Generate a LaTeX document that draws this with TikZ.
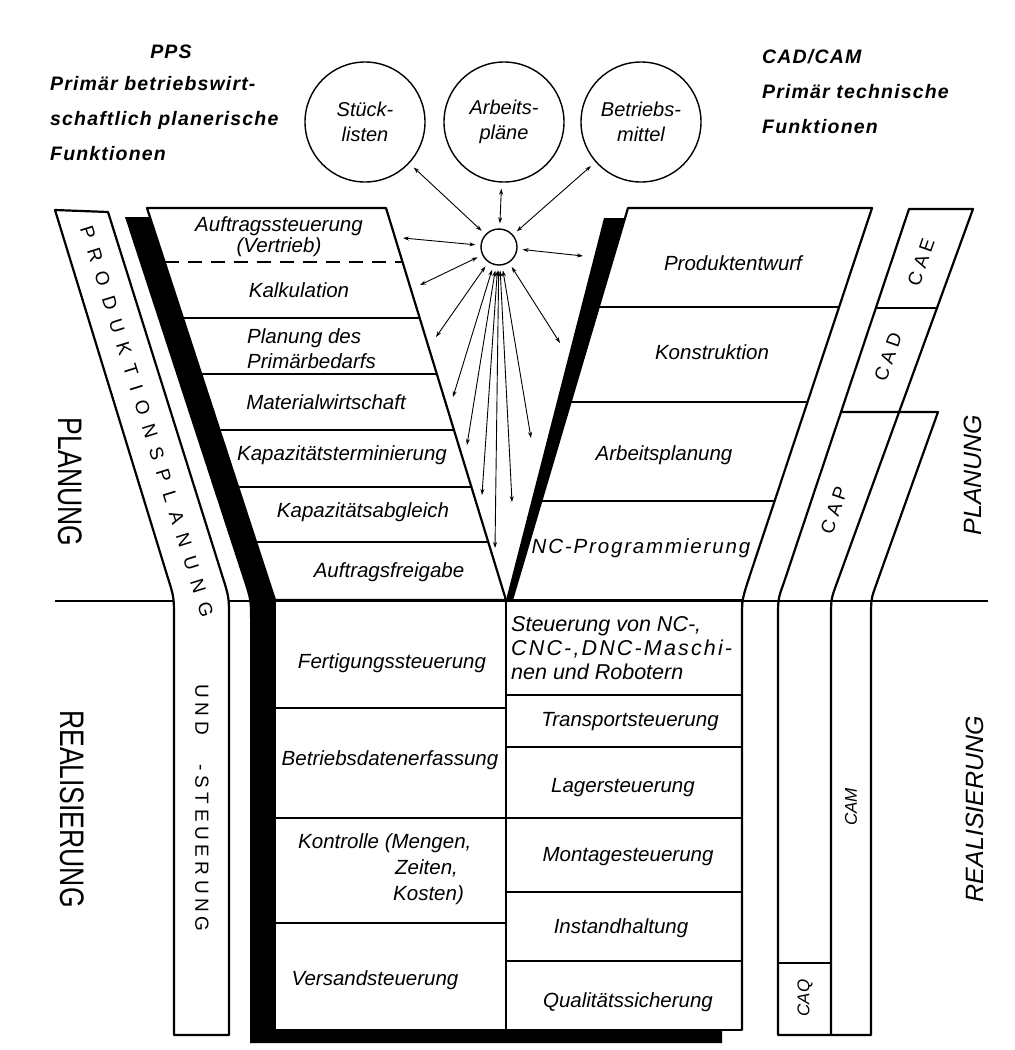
\documentclass[tikz,border=0pt]{standalone}
\usepackage{graphicx}
\usepackage{fontspec}
\setmainfont{Liberation Sans}
\newfontfamily\headfont[LetterSpace=6]{Liberation Sans}
\newfontfamily\bandfont[LetterSpace=55]{Liberation Sans}
\newfontfamily\bandfontb[LetterSpace=24]{Liberation Sans}
\newfontfamily\tagfont[LetterSpace=25]{Liberation Sans}
\usetikzlibrary{positioning,calc,arrows.meta}

\tikzset{
  funnel/.style={line width=2.2pt, line join=round},
  rowline/.style={line width=1.3pt},
  lbl/.style={font=\itshape\fontsize{20.5}{24}\selectfont, align=center, inner sep=0pt},
  head/.style={font=\headfont\bfseries\itshape\fontsize{19.5}{35}\selectfont, align=left, inner sep=0pt},
  store/.style={circle, draw, line width=1.4pt, minimum size=120pt, inner sep=0pt,
    font=\itshape\fontsize{20}{25}\selectfont, align=center},
  hub/.style={circle, draw, line width=1.4pt, minimum size=36pt, inner sep=0pt},
  link/.style={{Stealth[length=6pt,width=4pt]}-{Stealth[length=6pt,width=4pt]},
    line width=0.9pt, shorten <=5pt},
  phase/.style={font=\fontsize{34}{34}\selectfont, inner sep=0pt},
  cadtag/.style={font=\tagfont\fontsize{19}{19}\selectfont, inner sep=0pt},
}

\begin{document}
\begin{tikzpicture}[x=1pt,y=-1pt]
\useasboundingbox (0,0) rectangle (1015,1050);

% corners of the two funnel halves
\coordinate (ppsNW) at (147,208);
\coordinate (ppsNE) at (386,208);
\coordinate (ppsSW) at (275,600);
\coordinate (apex) at (506,600);
\coordinate (cadNW) at (628,208);
\coordinate (cadNE) at (872,208);
\coordinate (cadSW) at (512,600);
\coordinate (cadSE) at (742,600);

% Planung / Realisierung
\draw[line width=1.3pt] (55,601) -- (988,601);

% band left
\draw[funnel, fill=white] (55,210) -- (108,212) -- (222,575) .. controls (229,597) .. (229,619)
  -- (229,1035) -- (174,1035) -- (174,619) .. controls (174,597) .. (167,575) -- cycle;

% funnel
\draw[funnel] (ppsNW) -- (ppsNE) -- (apex) -- (ppsSW) -- cycle;
\draw[funnel] (ppsSW) rectangle (742,1030);
\draw[funnel] (cadSW) -- (cadNW) -- (cadNE) -- (748,581) .. controls (742,600) .. (742,620) -- (742,1030);

\draw[rowline, dash pattern=on 14pt off 9pt] ($(ppsNW)!{54/392}!(ppsSW)$) -- ($(ppsNE)!{54/392}!(apex)$);
\foreach \y in {318,374,430,487,542}
  \draw[rowline] ($(ppsNW)!{(\y-208)/392}!(ppsSW)$) -- ($(ppsNE)!{(\y-208)/392}!(apex)$);
\foreach \y in {307,402,501}
  \draw[rowline] ($(cadNW)!{(\y-208)/392}!(cadSW)$) -- ($(cadNE)!{(\y-208)/392}!(cadSE)$);
\draw[rowline] (apex) -- (506,1030);
\foreach \y in {708,818,923}
  \draw[rowline] (275,\y) -- (506,\y);
\foreach \y in {695,747,818,892,961}
  \draw[rowline] (506,\y) -- (742,\y);

% black bars
\fill (125,217) -- (242.5,577) .. controls (250,600) .. (250,622) -- (250,1043) -- (722,1043)
  -- (722,1030) -- (275,1030) -- (ppsSW) -- (150,217) -- cycle;
\fill (apex) -- (604,218) -- (625,218) -- (cadSW) -- cycle;

% CAx bands
\draw[funnel] (909,209) -- (973,209) -- (836.5,584) .. controls (831,599) .. (831,620) -- (831,1035)
  -- (778,1035) -- (778,620) .. controls (778,599) .. (783.4,584) -- cycle;
\draw[funnel] (840.8,412) -- (938,412) -- (876.4,584) .. controls (871,599) .. (871,620)
  -- (871,1035) -- (831,1035);
\draw[rowline] (875.7,308) -- (937,308);
\draw[rowline] (778,963) -- (831,963);

% headings
\node[head] (pps) at (171,52) {PPS};
\node[head, anchor=west] (ppsinfo) at (50,119) {Primär betriebswirt-\\schaftlich planerische\\Funktionen};
\node[head, anchor=west] (cadinfo) at (762,92) {CAD/CAM\\Primär technische\\Funktionen};

% side labels
\node[phase, rotate=-90] (planL) at (70,482) {\scalebox{0.78}[1]{PLANUNG}};
\node[phase, rotate=-90] (realL) at (72,809) {\scalebox{0.78}[1]{REALISIERUNG}};
\node[font=\itshape\fontsize{25}{25}\selectfont, inner sep=0pt, rotate=90] (planR) at (973,475) {PLANUNG};
\node[font=\itshape\fontsize{25}{25}\selectfont, inner sep=0pt, rotate=90] (realR) at (975,809) {REALISIERUNG};

\node[font=\bandfont\fontsize{19}{19}\selectfont, inner sep=0pt, rotate=-72.7] (pplan) at (147,422) {PRODUKTIONSPLANUNG};
\node[font=\bandfontb\fontsize{19}{19}\selectfont, inner sep=0pt, rotate=-90] (psteuer) at (202,808) {UND\hspace{30pt}-STEUERUNG};

\node[cadtag, rotate=71] (cae) at (921,262) {CAE};
\node[cadtag, rotate=71] (cad) at (888,357) {CAD};
\node[cadtag, rotate=71] (cap) at (834,510) {CAP};
\node[font=\itshape\fontsize{17}{17}\selectfont, inner sep=0pt, rotate=90] (cam) at (851,807) {CAM};
\node[font=\itshape\fontsize{17}{17}\selectfont, inner sep=0pt, rotate=90] (caq) at (805,998) {CAQ};

% PPS cells
\node[lbl, font=\itshape\fontsize{20.5}{21}\selectfont] (auftrag) at (279,237) {Auftragssteuerung\\(Vertrieb)};
\node[lbl] (kalk) at (299,290) {Kalkulation};
\node[lbl, align=left, anchor=west, font=\itshape\fontsize{20.5}{25}\selectfont] (primaer) at (247,349) {Planung des\\Primärbedarfs};
\node[lbl] (material) at (326,402) {Materialwirtschaft};
\node[lbl] (kapterm) at (342,455) {Kapazitätsterminierung};
\node[lbl] (kapabgl) at (363,512) {Kapazitätsabgleich};
\node[lbl] (freigabe) at (389,572) {Auftragsfreigabe};

\node[lbl] (fertigung) at (392,663) {Fertigungssteuerung};
\node[lbl] (bde) at (390,760) {Betriebsdatenerfassung};
\node[lbl, align=left, anchor=west, font=\itshape\fontsize{20.5}{26}\selectfont] (kontrolle) at (298,869)
  {Kontrolle (Mengen,\\\hspace*{97pt}Zeiten,\\\hspace*{95pt}Kosten)};
\node[lbl] (versand) at (375,980) {Versandsteuerung};

% CAD/CAM cells
\node[lbl] (entwurf) at (733,263) {Produktentwurf};
\node[lbl] (konstr) at (712,352) {Konstruktion};
\node[lbl] (arbplan) at (664,455) {Arbeitsplanung};
\node[lbl, font=\itshape\addfontfeature{LetterSpace=9}\fontsize{20.5}{24}\selectfont] (ncprog) at (641,548) {NC-Programmierung};

\node[lbl, align=left, anchor=west, font=\itshape\fontsize{21.5}{24}\selectfont] (ncsteuer) at (511,648)
  {Steuerung von NC-,\\{\addfontfeature{LetterSpace=10}CNC-,DNC-Maschi-}\\nen und Robotern};
\node[lbl] (transport) at (630,722) {Transportsteuerung};
\node[lbl] (lager) at (623,788) {Lagersteuerung};
\node[lbl] (montage) at (628,857) {Montagesteuerung};
\node[lbl] (instand) at (621,928) {Instandhaltung};
\node[lbl] (qs) at (628,1002) {Qualitätssicherung};

% data stores
\node[store] (stueck) at (365,122) {Stück-\\listen};
\node[store] (arbeit) at (504,122) {Arbeits-\\pläne};
\node[store] (betrieb) at (641,122) {Betriebs-\\mittel};
\node[hub] (hub) at (499,247) {};

\coordinate (aAuf) at (403,238);
\coordinate (aKalk) at (420,285);
\coordinate (aPlan) at (436,337);
\coordinate (aMat) at (453,397);
\coordinate (aKapT) at (467,445);
\coordinate (aKapA) at (482,495);
\coordinate (aFrei) at (495,548);
\coordinate (aNC) at (512,502);
\coordinate (aArb) at (531,438);
\coordinate (aKon) at (560,343);
\coordinate (aProd) at (583,256);

\draw[link, shorten >=6pt] (hub) -- (stueck);
\draw[link, shorten >=6pt] (hub) -- (arbeit);
\draw[link, shorten >=6pt] (hub) -- (betrieb);
\foreach \t in {aAuf,aKalk,aPlan,aMat,aKapT,aKapA,aFrei,aNC,aArb,aKon,aProd}
  \draw[link] (hub) -- (\t);

\end{tikzpicture}
\end{document}
